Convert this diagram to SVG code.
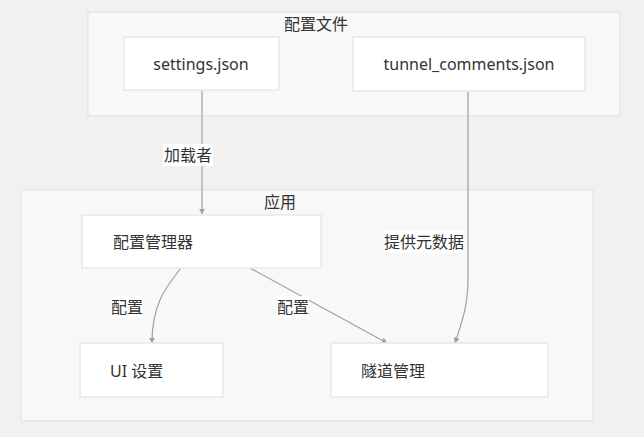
<svg xmlns="http://www.w3.org/2000/svg" width="644" height="437" viewBox="0 0 644 437">
<defs>
<style>
.cl{fill:#f8f8f8;stroke:#e6e6e6;stroke-width:1.5}
.nd{fill:#ffffff;stroke:#e8e8e8;stroke-width:1.5}
.t{font-family:"Noto Sans","Noto Sans CJK SC",sans-serif;font-size:16px;fill:#333333}
.s{font-size:15px}
.c{text-anchor:middle}
.e{fill:none;stroke:#a0a0a0;stroke-width:1.2}
.lb{fill:#ffffff}
</style>
<marker id="ah" viewBox="0 0 10 10" refX="9" refY="5" markerWidth="6" markerHeight="6" orient="auto" markerUnits="userSpaceOnUse">
<path d="M0,0 L10,5 L0,10 z" fill="#a0a0a0"/>
</marker>
</defs>
<rect width="644" height="437" fill="#f2f1f0"/>
<g id="cluster-files">
<rect class="cl" x="88" y="12" width="532" height="104"/>
<text class="t c" x="316" y="30">配置文件</text>
</g>
<g id="cluster-app">
<rect class="cl" x="21" y="190" width="572" height="231"/>
<text class="t c" x="280" y="208">应用</text>
</g>
<g id="edges">
<path class="e" d="M202,91 L202,214" marker-end="url(#ah)"/>
<path class="e" d="M468,91 L468,280 C468,305 462,322 455,343" marker-end="url(#ah)"/>
<path class="e" d="M181,268 C165,288 152,305 152,343" marker-end="url(#ah)"/>
<path class="e" d="M250,268 L387,343" marker-end="url(#ah)"/>
<rect class="lb" x="163" y="144" width="50" height="22"/>
<text class="t c" x="188" y="161">加载者</text>
<rect class="lb" x="384" y="231" width="80" height="22"/>
<text class="t c" x="424" y="248">提供元数据</text>
<rect class="lb" x="111" y="296" width="32" height="22"/>
<text class="t c" x="127" y="313">配置</text>
<rect class="lb" x="277" y="296" width="32" height="22"/>
<text class="t c" x="293" y="313">配置</text>
</g>
<g id="n-settings">
<rect class="nd" x="124" y="37" width="155" height="53"/>
<text class="t c" x="201" y="70">settings.json</text>
</g>
<g id="n-tunnel-comments">
<rect class="nd" x="353" y="37" width="232" height="54"/>
<text class="t c" x="469" y="70">tunnel_comments.json</text>
</g>
<g id="n-config-manager">
<rect class="nd" x="82" y="215" width="239" height="53"/>
<text class="t" x="113" y="248">配置管理器</text>
</g>
<g id="n-ui-settings">
<rect class="nd" x="80" y="343" width="143" height="54"/>
<text class="t" x="110" y="377">UI 设置</text>
</g>
<g id="n-tunnel-manage">
<rect class="nd" x="331" y="343" width="217" height="54"/>
<text class="t" x="361" y="377">隧道管理</text>
</g>
</svg>
